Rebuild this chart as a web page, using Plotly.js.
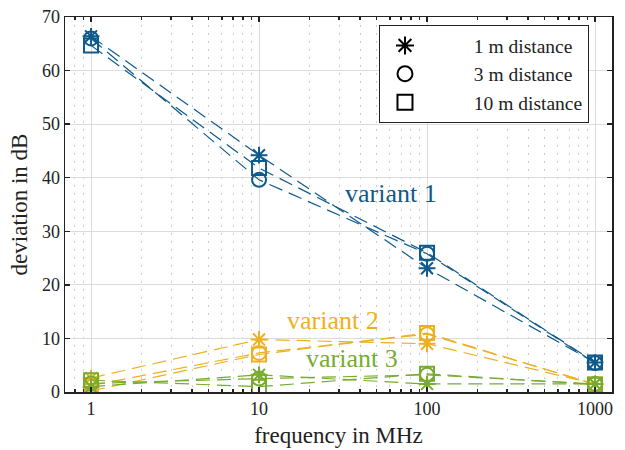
<!DOCTYPE html>
<html><head><meta charset="utf-8">
<script src="https://cdn.plot.ly/plotly-3.0.1.min.js"></script>
<style>body{margin:0;padding:0;background:#fff}#chart{width:625px;height:450px}</style>
</head><body><div id="chart"></div>
<script>
const freq = [1, 10, 100, 1000];
const distances = ["1 m distance", "3 m distance", "10 m distance"];
const symbols = ["asterisk-open", "circle-open", "square-open"];
// variant 1 values per distance
const v1_1m = [66.4, 44.2, 23.1, 5.5];
const v1_3m = [66.0, 39.6, 25.8, 5.4];
const v1_10m = [64.7, 41.8, 26.0, 5.5];
// variant 2
const v2_1m = [2.6, 9.8, 9.0, 1.5];
const v2_3m = [1.2, 7.3, 10.8, 1.5];
const v2_10m = [0.2, 7.0, 11.0, 1.4];
// variant 3
const v3_1m = [1.0, 3.2, 1.5, 1.5];
const v3_3m = [1.6, 2.5, 3.2, 1.5];
const v3_10m = [2.2, 1.0, 3.4, 1.4];
const variants = ["variant 1", "variant 2", "variant 3"];
const colors = ["#0E5A8C", "#EDB120", "#77AC30"];
const data = [[v1_1m, v1_3m, v1_10m], [v2_1m, v2_3m, v2_10m], [v3_1m, v3_3m, v3_10m]];

const traces = [];
data.forEach((set, vi) => {
  set.forEach((ys, di) => {
    traces.push({x: freq, y: ys, type: 'scatter', mode: 'lines+markers', showlegend: false,
      line: {color: colors[vi], width: 1.2, dash: '14px,7px'},
      marker: {symbol: symbols[di], size: 14, color: colors[vi], line: {color: colors[vi], width: 2}}});
  });
});
const pad = '\u00a0\u00a0\u00a0\u00a0\u00a0\u00a0\u00a0\u00a0\u00a0';
distances.forEach((d, di) => {
  traces.push({x: [null], y: [null], type: 'scatter', mode: 'markers', name: pad + d,
    marker: {symbol: symbols[di], size: 15, color: 'black', line: {color: 'black', width: 2}}});
});

const font = "Liberation Serif";
const layout = {
  width: 625, height: 450,
  margin: {l: 65, r: 13, t: 17, b: 58},
  paper_bgcolor: 'white', plot_bgcolor: 'white',
  font: {family: font, size: 18, color: '#222'},
  xaxis: {type: 'log', range: [-0.155, 3.101], tickvals: freq, ticktext: ['1','10','100','1000'],
    tickfont: {family: font, size: 18, color: '#222'},
    ticks: 'inside', ticklen: 5, tickwidth: 1.5, tickcolor: '#222', mirror: 'allticks',
    showline: true, linecolor: '#222', linewidth: 1.5,
    showgrid: true, gridcolor: '#dcdcdc', gridwidth: 1, zeroline: false,
    minor: {tickvals: [0.7,0.8,0.9,2,3,4,5,6,7,8,9,20,30,40,50,60,70,80,90,200,300,400,500,600,700,800,900],
      ticks: 'inside', ticklen: 3, tickcolor: '#222', showgrid: true, gridcolor: '#d0d0d0', griddash: '2px,6px', gridwidth: 1},
    title: {text: 'frequency in MHz', font: {family: font, size: 23, color: '#222'}, standoff: 9}},
  yaxis: {range: [0, 70], dtick: 10, ticks: 'inside', ticklen: 5, tickwidth: 1.5, tickcolor: '#222', mirror: 'allticks',
    tickfont: {family: font, size: 18, color: '#222'},
    showline: true, linecolor: '#222', linewidth: 1.5,
    showgrid: true, gridcolor: '#dcdcdc', zeroline: false,
    title: {text: 'deviation in dB', font: {family: font, size: 23, color: '#222'}, standoff: 8}},
  legend: {x: 0.574, y: 0.978, xanchor: 'left', yanchor: 'top', bgcolor: 'white', bordercolor: '#222', borderwidth: 1,
    font: {family: font, size: 19.5, color: '#222'}, tracegroupgap: 0, itemwidth: 40},
  annotations: [
    {x: Math.log10(61), y: 37.1, xref: 'x', yref: 'y', text: variants[0], showarrow: false, xanchor: 'center', font: {family: font, size: 26, color: colors[0]}},
    {x: Math.log10(27.5), y: 13.4, xref: 'x', yref: 'y', text: variants[1], showarrow: false, xanchor: 'center', font: {family: font, size: 26, color: colors[1]}},
    {x: Math.log10(36), y: 6.3, xref: 'x', yref: 'y', text: variants[2], showarrow: false, xanchor: 'center', font: {family: font, size: 26, color: colors[2]}}
  ]
};
Plotly.newPlot('chart', traces, layout, {displayModeBar: false, staticPlot: true});
</script></body></html>
